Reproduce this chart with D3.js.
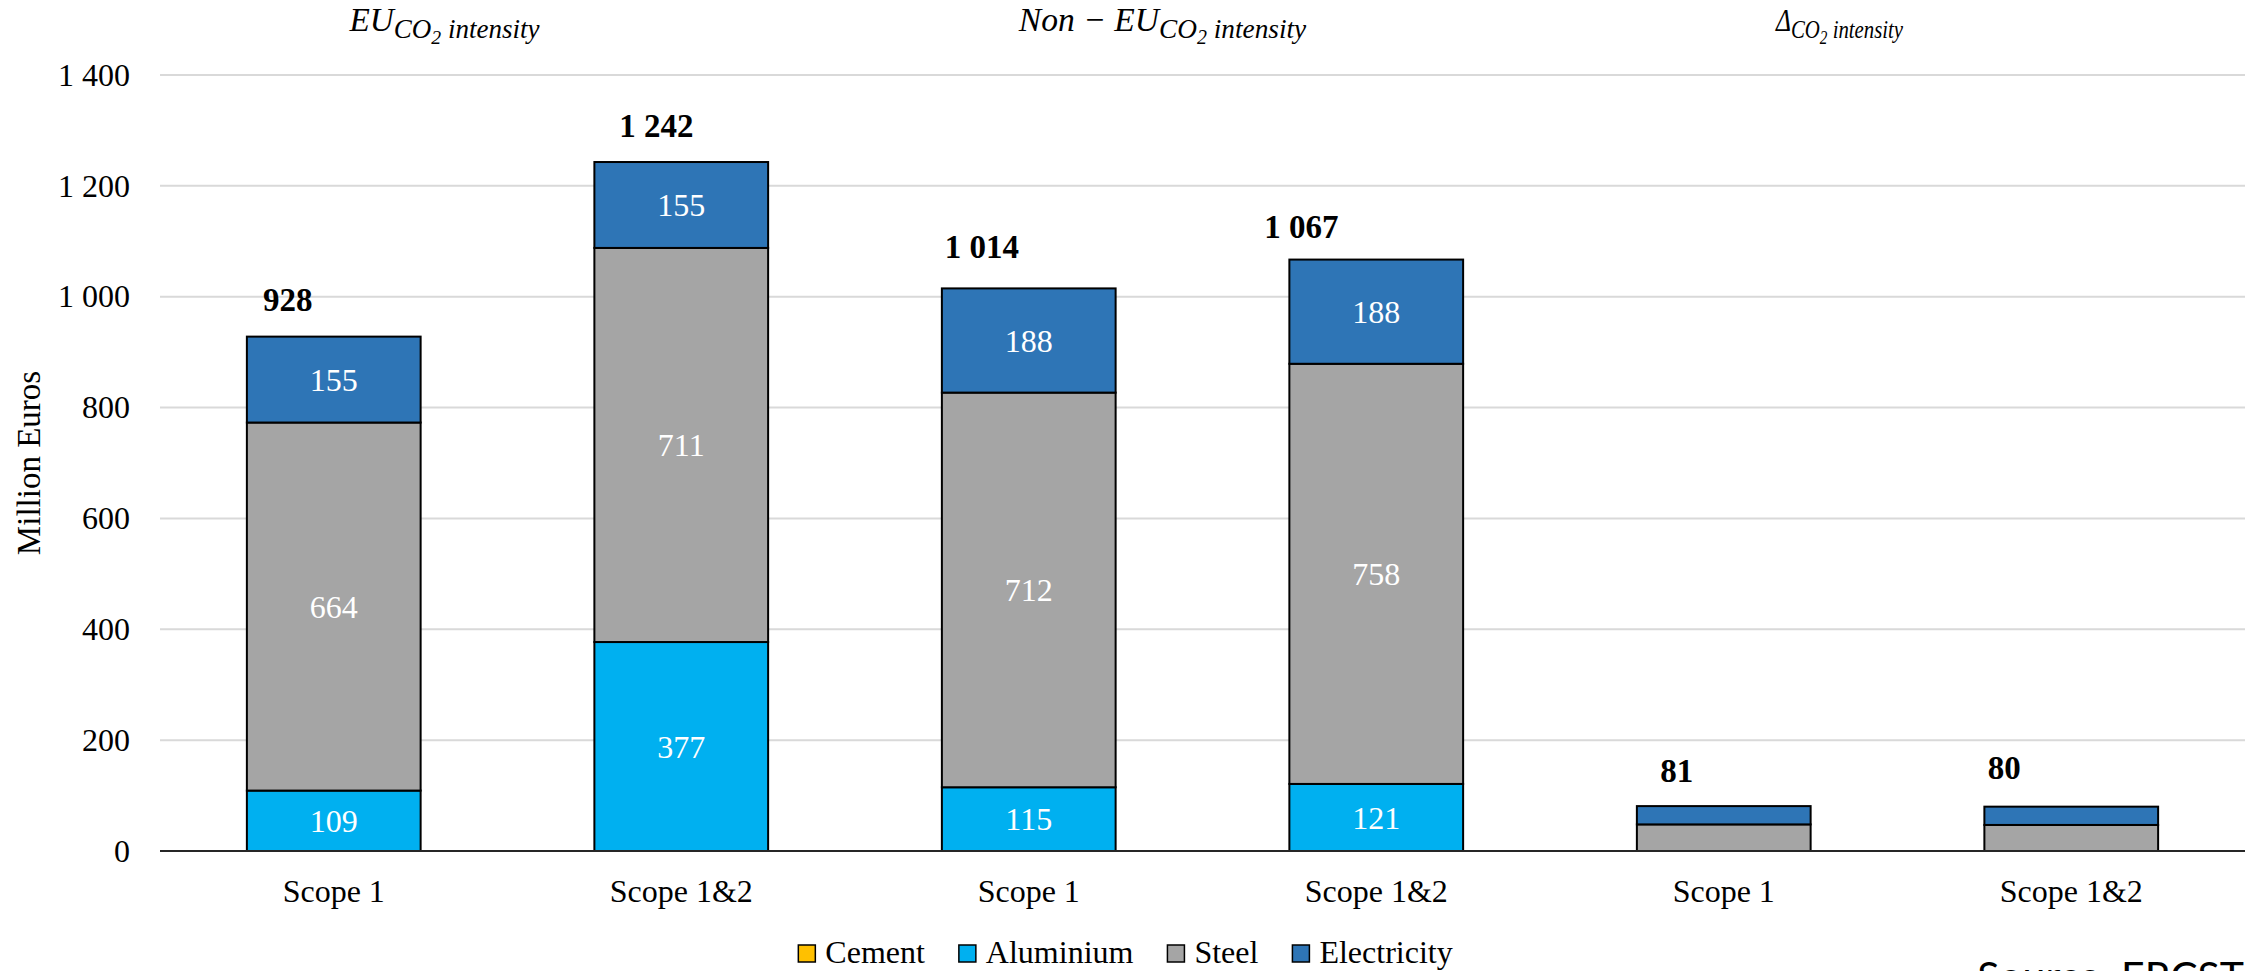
<!DOCTYPE html>
<html>
<head>
<meta charset="utf-8">
<script src="https://cdn.jsdelivr.net/npm/d3@7/dist/d3.min.js"></script>
<style>
  html, body { margin: 0; padding: 0; background: #ffffff; }
  svg { display: block; }
</style>
</head>
<body>
<svg id="chart" width="2251" height="971"></svg>
<script>
// Categories (two per comparison group) and the stacked components, in Million Euros
const categories = ["Scope 1", "Scope 1&2", "Scope 1", "Scope 1&2", "Scope 1", "Scope 1&2"];
const groupTitles = [
  { lead: "EU" },
  { lead: "Non \u2212 EU" },
  { lead: "\u0394" }
];
const cement      = [0, 0, 0, 0, 0, 0];
const aluminium   = [109, 377, 115, 121, 0, 0];
const steel       = [664, 711, 712, 758, 48, 47];
const electricity = [155, 155, 188, 188, 33, 33];
const totals      = [928, 1242, 1014, 1067, 81, 80];
const yTicks      = [0, 200, 400, 600, 800, 1000, 1200, 1400];

const seriesNames  = ["Cement", "Aluminium", "Steel", "Electricity"];
const seriesColors = ["#FFC000", "#00B0F0", "#A5A5A5", "#2E75B6"];

// Layout: hand-placed offsets of the total labels and group titles
const totalNudge = [[-46, -26], [-25, -26], [-47, -31], [-75, -22], [-47, -24], [-67, -28]];
const titleShift = [-63, -40, -58];
const titleScale = [1.04, 1.05, 1.0];
const titleSqueeze = [1, 1, 0.8];

const W = 2251, H = 971;
const plot = { left: 160, right: 2245, top: 75, bottom: 851 };
const serif = "'Liberation Serif', 'Times New Roman', serif";

const svg = d3.select("#chart");

const x = d3.scaleBand()
  .domain(d3.range(categories.length))
  .range([plot.left, plot.right])
  .paddingInner(0.5)
  .paddingOuter(0.25);

const y = d3.scaleLinear()
  .domain([0, 1400])
  .range([plot.bottom, plot.top]);

// Horizontal gridlines
svg.append("g")
  .selectAll("line")
  .data(yTicks.filter(d => d > 0))
  .join("line")
  .attr("x1", plot.left).attr("x2", plot.right)
  .attr("y1", d => y(d)).attr("y2", d => y(d))
  .attr("stroke", "#D9D9D9")
  .attr("stroke-width", 2);

// Y axis labels
const fmt = d => d3.format(",")(d).replace(/,/g, " ");
const yAxis = svg.append("g")
  .attr("transform", `translate(${plot.left},0)`)
  .call(d3.axisLeft(y).tickValues(yTicks).tickFormat(fmt).tickSize(0).tickPadding(30));
yAxis.select(".domain").remove();
yAxis.selectAll("text")
  .attr("font-family", serif)
  .attr("font-size", 32)
  .attr("fill", "#000");

// Y axis title
svg.append("text")
  .attr("transform", `translate(40,${(plot.top + plot.bottom) / 2}) rotate(-90)`)
  .attr("text-anchor", "middle")
  .attr("font-family", serif)
  .attr("font-size", 33)
  .attr("fill", "#000")
  .text("Million Euros");

// Stacked bars
const rows = categories.map((c, i) => ({
  i,
  Cement: cement[i],
  Aluminium: aluminium[i],
  Steel: steel[i],
  Electricity: electricity[i]
}));
const stack = d3.stack().keys(seriesNames)(rows);

const layers = svg.append("g")
  .selectAll("g")
  .data(stack)
  .join("g")
  .attr("fill", (d, k) => seriesColors[k]);

layers.selectAll("rect")
  .data(d => d.filter(s => s[1] - s[0] > 0))
  .join("rect")
  .attr("x", s => x(s.data.i))
  .attr("width", x.bandwidth())
  .attr("y", s => y(s[1]))
  .attr("height", s => y(s[0]) - y(s[1]))
  .attr("stroke", "#000")
  .attr("stroke-width", 2);

// Segment value labels (only where the segment is tall enough)
layers.selectAll("text")
  .data(d => d.filter(s => y(s[0]) - y(s[1]) > 40))
  .join("text")
  .attr("x", s => x(s.data.i) + x.bandwidth() / 2)
  .attr("y", s => (y(s[0]) + y(s[1])) / 2)
  .attr("dy", "0.35em")
  .attr("text-anchor", "middle")
  .attr("font-family", serif)
  .attr("font-size", 32)
  .attr("fill", "#fff")
  .text(s => s[1] - s[0]);

// Baseline
svg.append("line")
  .attr("x1", plot.left).attr("x2", plot.right)
  .attr("y1", y(0)).attr("y2", y(0))
  .attr("stroke", "#262626")
  .attr("stroke-width", 2);

// Totals above each bar
svg.append("g")
  .selectAll("text")
  .data(totals)
  .join("text")
  .attr("x", (d, i) => x(i) + x.bandwidth() / 2 + totalNudge[i][0])
  .attr("y", (d, i) => y(d) + totalNudge[i][1])
  .attr("text-anchor", "middle")
  .attr("font-family", serif)
  .attr("font-size", 33)
  .attr("font-weight", "bold")
  .attr("fill", "#000")
  .text(fmt);

// Category labels
svg.append("g")
  .selectAll("text")
  .data(categories)
  .join("text")
  .attr("x", (d, i) => x(i) + x.bandwidth() / 2)
  .attr("y", 902)
  .attr("text-anchor", "middle")
  .attr("font-family", serif)
  .attr("font-size", 32)
  .attr("fill", "#000")
  .text(d => d);

// Group titles: X_{CO_2 intensity}
const titles = svg.append("g")
  .selectAll("text")
  .data(groupTitles)
  .join("text")
  .attr("transform", (d, g) => {
    const cx = (x(2 * g) + x(2 * g + 1) + x.bandwidth()) / 2 + titleShift[g];
    return `translate(${cx},31) scale(${titleSqueeze[g]},1)`;
  })
  .attr("text-anchor", "middle")
  .attr("font-family", serif)
  .attr("font-style", "italic")
  .attr("font-size", (d, g) => 32 * titleScale[g])
  .attr("fill", "#000");
titles.append("tspan").text(d => d.lead);
titles.append("tspan").attr("font-size", (d, g) => 26 * titleScale[g]).attr("dy", 7).text("CO");
titles.append("tspan").attr("font-size", (d, g) => 19 * titleScale[g]).attr("dy", 6).text("2");
titles.append("tspan").attr("font-size", (d, g) => 26 * titleScale[g]).attr("dy", -6).text("\u00a0intensity");

// Legend, centred on the page
const legend = svg.append("g");
const items = legend.selectAll("g")
  .data(seriesNames)
  .join("g");
items.append("rect")
  .attr("width", 17).attr("height", 17)
  .attr("y", 945)
  .attr("fill", (d, k) => seriesColors[k])
  .attr("stroke", "#000")
  .attr("stroke-width", 1.5);
items.append("text")
  .attr("x", 27)
  .attr("y", 963)
  .attr("font-family", serif)
  .attr("font-size", 32)
  .attr("fill", "#000")
  .text(d => d);
let cursor = 0;
const offsets = [];
items.each(function () {
  offsets.push(cursor);
  const tw = d3.select(this).select("text").node().getComputedTextLength();
  cursor += 27 + tw + 34;
});
const legendWidth = cursor - 34;
const legendStart = W / 2 - legendWidth / 2;
items.attr("transform", (d, k) => `translate(${legendStart + offsets[k]},0)`);

// Source note at the bottom right, running past the lower edge
svg.append("text")
  .attr("x", 2244)
  .attr("y", 991)
  .attr("text-anchor", "end")
  .attr("font-family", "Lato, 'Open Sans', sans-serif")
  .attr("font-size", 41)
  .attr("fill", "#000")
  .text("Source: ERCST");
</script>
</body>
</html>
